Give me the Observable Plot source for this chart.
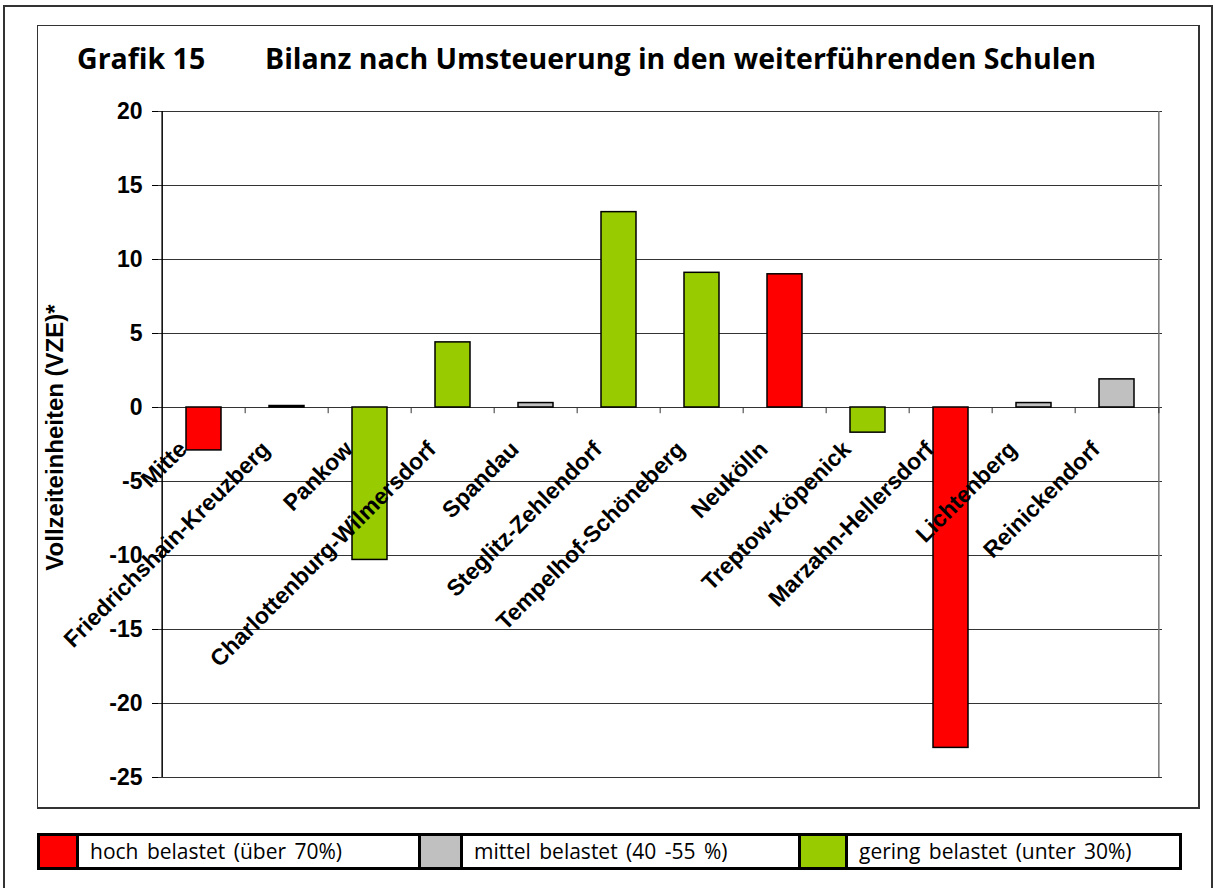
<!DOCTYPE html>
<html>
<head>
<meta charset="utf-8">
<script src="https://cdn.jsdelivr.net/npm/d3@7"></script>
<script src="https://cdn.jsdelivr.net/npm/@observablehq/plot@0.6"></script>
<style>
  html, body { margin: 0; padding: 0; background: #fff; }
  body { width: 1215px; height: 888px; position: relative; overflow: hidden; font-family: "Liberation Sans", Arial, sans-serif; }
  #outer { position: absolute; left: 3px; top: 5px; width: 1210px; height: 895px; border: 2px solid #333; box-sizing: border-box; }
  #inner { position: absolute; left: 37px; top: 25px; width: 1163px; height: 784px; border: 1px solid #333; border-right-width: 2px; border-bottom-width: 2px; box-sizing: border-box; }
  #title1, #title2 { position: absolute; top: 39px; font-family: "Open Sans", sans-serif; font-weight: bold; font-size: 28.5px; color: #000; white-space: nowrap; }
  #title1 { left: 77px; }
  #title2 { left: 265px; }
  #chart { position: absolute; left: 37px; top: 95px; }
  #legend { position: absolute; left: 37px; top: 833px; height: 37px; display: flex; border: 3px solid #000; box-sizing: border-box; font-family: "Open Sans", sans-serif; font-size: 21px; }
  #legend .sw { height: 100%; box-sizing: border-box; border-right: 3px solid #000; }
  #legend .lt { height: 100%; box-sizing: border-box; padding-left: 11px; line-height: 30px; white-space: nowrap; word-spacing: 3px; }
  #legend .lt:not(:last-child) { border-right: 3px solid #000; }
</style>
</head>
<body>
<div id="outer"></div>
<div id="inner"></div>
<div id="title1">Grafik 15</div>
<div id="title2">Bilanz nach Umsteuerung in den weiterführenden Schulen</div>
<div id="chart"></div>
<div id="legend"></div>
<script>
// ---- data ----
const districts = ["Mitte", "Friedrichshain-Kreuzberg", "Pankow", "Charlottenburg-Wilmersdorf", "Spandau",
  "Steglitz-Zehlendorf", "Tempelhof-Schöneberg", "Neukölln", "Treptow-Köpenick", "Marzahn-Hellersdorf",
  "Lichtenberg", "Reinickendorf"];
const values = [-2.9, 0.1, -10.3, 4.4, 0.3, 13.2, 9.1, 9.0, -1.7, -23.0, 0.3, 1.9];
const classes = ["hoch", "hoch", "gering", "gering", "mittel", "gering", "gering", "hoch", "gering", "hoch", "mittel", "mittel"];
const classKeys = ["hoch", "mittel", "gering"];
const classLabels = ["hoch belastet (über 70%)", "mittel belastet (40 -55 %)", "gering belastet (unter 30%)"];
const classColors = ["#FF0000", "#C0C0C0", "#99CC00"];
const yTicks = [20, 15, 10, 5, 0, -5, -10, -15, -20, -25];
const yTitle = "Vollzeiteinheiten (VZE)*";

const rows = districts.map((d, i) => ({district: d, value: values[i], cls: classes[i]}));

const W = 1161, H = 711;
const mL = 121, mR = 36, mT = 16, mB = 29;
const step = (W - mL - mR) / districts.length;
const colorOf = k => classColors[classKeys.indexOf(k)];

const chart = Plot.plot({
  width: W,
  height: H,
  marginLeft: mL,
  marginRight: mR,
  marginTop: mT,
  marginBottom: mB,
  style: {fontFamily: "'Liberation Sans', Arial, sans-serif", fontSize: "23px", fontWeight: "bold", color: "#000", background: "transparent", overflow: "visible"},
  x: {domain: districts, paddingInner: 0.58, paddingOuter: 0.29, axis: null},
  y: {domain: [-25, 20], axis: null},
  marks: [
    Plot.ruleY(yTicks, {stroke: "#333", strokeWidth: 1}),
    // left border and right border of the plot area
    Plot.ruleX([districts[0]], {dx: -step / 2, stroke: "#000", strokeWidth: 1.5}),
    Plot.ruleX([districts[districts.length - 1]], {dx: step / 2, stroke: "#777", strokeWidth: 1.5}),
    // category ticks on the zero line
    Plot.ruleX(districts.slice(1), {dx: -step / 2, y1: 0, y2: -0.42, stroke: "#333", strokeWidth: 1}),
    Plot.ruleX([districts[districts.length - 1]], {dx: step / 2, y1: 0, y2: -0.42, stroke: "#333", strokeWidth: 1}),
    Plot.barY(rows, {x: "district", y: "value", fill: d => colorOf(d.cls), stroke: "#000", strokeWidth: 1.5}),
    Plot.axisY({ticks: yTicks, label: null, tickSize: 6, tickPadding: 10, tickFormat: d => String(d), stroke: "#000", fontSize: 23, fontWeight: "bold"}),
    Plot.text(rows, {x: "district", y: () => 0, text: "district", rotate: -45, textAnchor: "end", dx: -21, dy: 38, fontSize: 23, fontWeight: "bold", fill: "#000"}),
    Plot.text([yTitle], {frameAnchor: "left", text: d => d, rotate: -90, textAnchor: "middle", dx: -103, dy: -7, fontSize: 24, fontWeight: "bold", fill: "#000"})
  ]
});
document.getElementById("chart").appendChild(chart);

// legend
const legend = document.getElementById("legend");
const swW = [39, 42, 47];
const ltW = [342, 338, 331];
classKeys.forEach((k, i) => {
  const sw = document.createElement("div");
  sw.className = "sw";
  sw.style.width = swW[i] + "px";
  sw.style.background = classColors[i];
  legend.appendChild(sw);
  const lt = document.createElement("div");
  lt.className = "lt";
  lt.style.width = ltW[i] + "px";
  lt.textContent = classLabels[i];
  legend.appendChild(lt);
});
</script>
</body>
</html>
